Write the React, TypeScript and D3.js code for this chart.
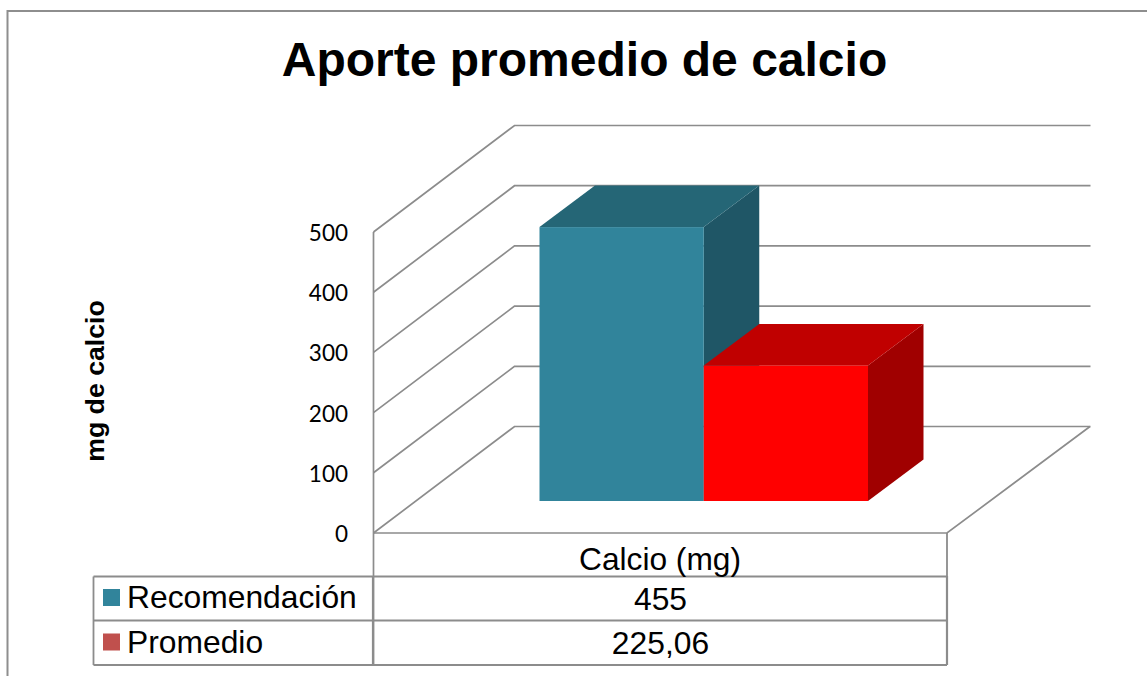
import React from "react";
import * as d3 from "d3";

const title = "Aporte promedio de calcio";
const yTitle = "mg de calcio";
const category = "Calcio (mg)";
const seriesNames = ["Recomendación", "Promedio"];
const seriesValues = [455, 225.06];
const seriesLabels = ["455", "225,06"];
const tickValues = [0, 100, 200, 300, 400, 500];
const frontColors = ["#31849b", "#ff0000"];
const topColors = ["#256676", "#c00000"];
const sideColors = ["#1f5666", "#a00000"];
const legendColors = ["#31849b", "#c0504d"];

const GRID = "#8c8c8c";
const TEXT = "'Liberation Sans', Arial, sans-serif";
const TICK = "Lato, 'Open Sans', sans-serif";

export default function App() {
  const y = d3.scaleLinear().domain([0, 500]).range([533, 232]);
  const x = d3.scaleBand<number>().domain([0, 1]).range([539.5, 868]).padding(0);
  const backDx = 141;
  const backDy = -106.5;
  const barDx = 55.5;
  const barDy = -41.5;
  const barBase = 501;
  const h = (v: number) => y(0) - y(v);
  const left = 373.5;
  const front = 947;
  const line = d3.line();

  return (
    <svg width={1147} height={676} style={{ position: "absolute", left: 0, top: 0, background: "#fff" }}>
      <path d="M7.5 676V11H1147" fill="none" stroke="#8e8e8e" strokeWidth={2} />
      <text x={584.5} y={76} textAnchor="middle" fontFamily={TEXT} fontWeight={700} fontSize={48} fill="#000">{title}</text>
      <text transform="translate(104,381) rotate(-90)" textAnchor="middle" fontFamily={TEXT} fontWeight={700} fontSize={26.7} fill="#000">{yTitle}</text>

      {tickValues.map((t) => (
        <g key={t}>
          <path
            d={line([[left, y(t)], [left + backDx, y(t) + backDy], [left + backDx + 576, y(t) + backDy]]) ?? ""}
            fill="none" stroke={GRID} strokeWidth={1.7}
          />
          <text x={348} y={y(t) + 9} textAnchor="end" fontFamily={TICK} fontSize={22.5} fill="#000">{t}</text>
        </g>
      ))}
      <path d={line([[left, y(500)], [left, 664]]) ?? ""} fill="none" stroke={GRID} strokeWidth={1.7} />
      <path d={line([[left, y(0)], [front, y(0)], [front + 143, y(0) + backDy]]) ?? ""} fill="none" stroke={GRID} strokeWidth={1.7} />

      {seriesValues.map((v, i) => {
        const x0 = x(i)!;
        const w = x.bandwidth();
        const top = barBase - h(v);
        const side = [[x0 + w, top], [x0 + w + barDx, top + barDy], [x0 + w + barDx, barBase + barDy], [x0 + w, barBase]] as [number, number][];
        const cap = [[x0, top], [x0 + barDx, top + barDy], [x0 + w + barDx, top + barDy], [x0 + w, top]] as [number, number][];
        return (
          <g key={seriesNames[i]}>
            <path d={(line(side) ?? "") + "Z"} fill={sideColors[i]} />
            <path d={(line(cap) ?? "") + "Z"} fill={topColors[i]} />
            <rect x={x0} y={top} width={w} height={h(v)} fill={frontColors[i]} />
          </g>
        );
      })}

      <path d="M947 533V665M373.5 576.5H947M93.5 576.5H373.5M93.5 620.5H947M93.5 665H947M93.5 576.5V665" fill="none" stroke={GRID} strokeWidth={1.8} />
      <path d="M373 576V665M947 576V665" fill="none" stroke={GRID} strokeWidth={2.2} />
      <text x={660} y={570} textAnchor="middle" fontFamily={TEXT} fontSize={31.7} fill="#000">{category}</text>

      {seriesNames.map((n, i) => {
        const rowY = 598 + i * 44.5;
        return (
          <g key={n}>
            <rect x={103} y={rowY - 9} width={17} height={17} fill={legendColors[i]} />
            <text x={127} y={rowY + 10} fontFamily={TEXT} fontSize={31.8} fill="#000">{n}</text>
            <text x={660.5} y={rowY + 11.5} textAnchor="middle" fontFamily={TEXT} fontSize={31.8} fill="#000">{seriesLabels[i]}</text>
          </g>
        );
      })}
    </svg>
  );
}
